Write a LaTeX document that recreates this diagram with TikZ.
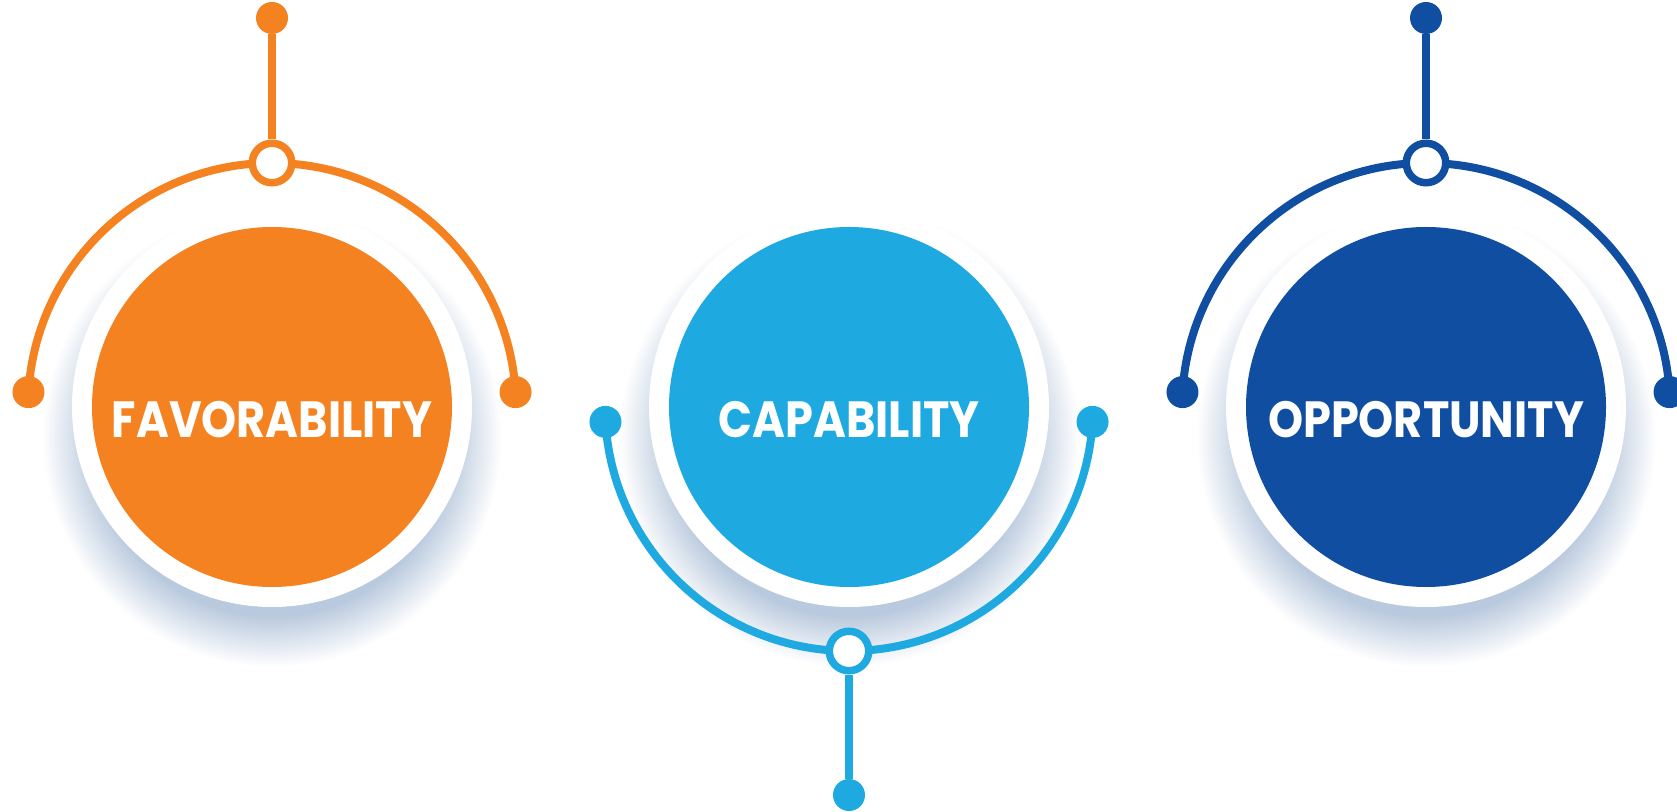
\documentclass[tikz,border=0pt]{standalone}
\usepackage{fontspec}
\newfontfamily\labelfont{Poppins}
\usetikzlibrary{positioning,backgrounds}
\definecolor{favorange}{RGB}{245,130,32}
\definecolor{capcyan}{RGB}{30,169,225}
\definecolor{oppblue}{RGB}{15,78,160}
\definecolor{shade}{RGB}{186,202,222}
\pgfdeclareradialshading{haloshadow}{\pgfpoint{0bp}{0bp}}{color(0bp)=(shade); color(19.5bp)=(shade); color(25bp)=(white); color(50bp)=(white)}
\tikzstyle{halo}=[circle,fill=white,minimum size=400pt,inner sep=0pt]
\tikzstyle{hub}=[circle,minimum size=360pt,inner sep=0pt]
\tikzstyle{tag}=[text=white,inner sep=0pt,font=\labelfont\bfseries\fontsize{48}{50}\selectfont]
\tikzstyle{joint}=[circle,fill=white,line width=7.5pt,minimum size=39.5pt,inner sep=0pt]
\tikzstyle{knob}=[circle,minimum size=32pt,inner sep=0pt]
\tikzstyle{wire}=[line width=8pt]

\begin{document}
\begin{tikzpicture}[x=1pt,y=1pt,node distance=577pt]
\useasboundingbox (0,0) rectangle (1677,811);

% white halos
\node[halo] (favhalo) at (272,404) {};
\node[halo] (caphalo) [right of=favhalo] {};
\node[halo] (opphalo) [right of=caphalo] {};

% soft shadows under the halos
\begin{scope}[on background layer]
\foreach \h in {favhalo,caphalo,opphalo}
  \shade[shading=haloshadow] ([yshift=-30pt]\h.center) circle (230);
\end{scope}

% coloured hubs
\node[hub,fill=favorange] (fav) at (favhalo) {};
\node[hub,fill=capcyan]   (cap) at (caphalo) {};
\node[hub,fill=oppblue]   (opp) at (opphalo) {};

\node[tag] (favtext) at ([yshift=-13pt]fav.center) {\scalebox{0.93}[1.06]{FAVORABILITY}};
\node[tag] (captext) at ([yshift=-13pt]cap.center) {\scalebox{0.93}[1.06]{CAPABILITY}};
\node[tag] (opptext) at ([yshift=-13pt]opp.center) {\scalebox{0.93}[1.06]{OPPORTUNITY}};

% favorability: arc above
\node[knob,fill=favorange] (favL) at ([shift={(176.5:244)}]fav.center) {};
\node[knob,fill=favorange] (favR) at ([shift={(3.5:244)}]fav.center) {};
\draw[wire,favorange] (favL.center) arc[start angle=176.5,end angle=3.5,radius=244];
\node[joint,draw=favorange] (favJ) at ([shift={(90:244)}]fav.center) {};
\node[knob,fill=favorange] (favT) at ([yshift=145pt]favJ.center) {};
\draw[wire,favorange] (favJ) -- (favT);

% capability: arc below
\node[knob,fill=capcyan] (capL) at ([shift={(183.5:244)}]cap.center) {};
\node[knob,fill=capcyan] (capR) at ([shift={(356.5:244)}]cap.center) {};
\draw[wire,capcyan] (capL.center) arc[start angle=183.5,end angle=356.5,radius=244];
\node[joint,draw=capcyan] (capJ) at ([shift={(270:244)}]cap.center) {};
\node[knob,fill=capcyan] (capB) at ([yshift=-144pt]capJ.center) {};
\draw[wire,capcyan] (capJ) -- (capB);

% opportunity: arc above
\node[knob,fill=oppblue] (oppL) at ([shift={(176.5:244)}]opp.center) {};
\node[knob,fill=oppblue] (oppR) at ([shift={(3.5:244)}]opp.center) {};
\draw[wire,oppblue] (oppL.center) arc[start angle=176.5,end angle=3.5,radius=244];
\node[joint,draw=oppblue] (oppJ) at ([shift={(90:244)}]opp.center) {};
\node[knob,fill=oppblue] (oppT) at ([yshift=145pt]oppJ.center) {};
\draw[wire,oppblue] (oppJ) -- (oppT);

\end{tikzpicture}
\end{document}
